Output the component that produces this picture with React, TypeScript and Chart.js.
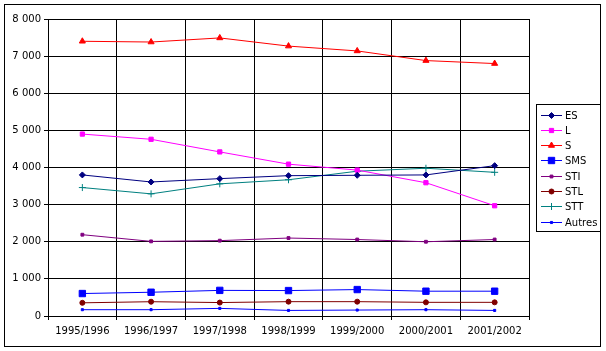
import React, { useEffect, useRef } from 'react';
import { Chart, registerables } from 'chart.js';
import { drawPoint } from 'chart.js/helpers';

Chart.register(...registerables);

const categories = ['1995/1996', '1996/1997', '1997/1998', '1998/1999', '1999/2000', '2000/2001', '2001/2002'];
const seriesES = [3800, 3610, 3700, 3780, 3790, 3800, 4050];
const seriesL = [4900, 4760, 4420, 4090, 3930, 3590, 2970];
const seriesS = [7400, 7380, 7490, 7270, 7140, 6880, 6800];
const seriesSMS = [605, 640, 690, 685, 712, 668, 668];
const seriesSTI = [2190, 2010, 2030, 2100, 2060, 2000, 2060];
const seriesSTL = [355, 385, 362, 386, 386, 368, 368];
const seriesSTT = [3460, 3290, 3560, 3670, 3900, 3980, 3870];
const seriesAutres = [170, 170, 205, 150, 160, 170, 150];
const yMin = 0;
const yMax = 8000;
const yStep = 1000;

const FONT = 'DejaVu Sans';

const fmt = (v: number) => String(v).replace(/\B(?=(\d{3})+(?!\d))/g, ' ');

const frame = {
  id: 'frame',
  beforeDraw(chart: any) {
    const ctx = chart.ctx;
    ctx.save();
    ctx.fillStyle = '#fff';
    ctx.fillRect(0, 0, chart.width, chart.height);
    ctx.restore();
  },
  afterDraw(chart: any) {
    const ctx = chart.ctx;
    ctx.save();
    ctx.strokeStyle = '#000';
    ctx.lineWidth = 1;
    ctx.strokeRect(4.5, 4.5, 596, 342);
    // legend
    const lx = 536.5, ly = 104.5, lw = 64, lh = 127;
    ctx.fillStyle = '#fff';
    ctx.fillRect(lx, ly, lw, lh);
    ctx.strokeRect(lx, ly, lw, lh);
    chart.data.datasets.forEach((ds: any, i: number) => {
      const y = Math.round(114.5 + i * 15.3) + 0.5;
      ctx.strokeStyle = ds.borderColor;
      ctx.fillStyle = ds.borderColor;
      ctx.lineWidth = 1;
      ctx.beginPath();
      ctx.moveTo(541, y);
      ctx.lineTo(562, y);
      ctx.stroke();
      drawPoint(ctx, {
        pointStyle: ds.pointStyle,
        radius: ds.pointRadius,
        rotation: 0,
        borderWidth: 1,
      } as any, 551.5, y);
      ctx.fillStyle = '#000';
      ctx.font = `10px "${FONT}"`;
      ctx.textBaseline = 'middle';
      ctx.textAlign = 'left';
      ctx.fillText(ds.label, 565, y + 0.5);
    });
    ctx.restore();
  },
};

function mk(label: string, data: number[], color: string, style: string, r: number) {
  return {
    label,
    data,
    borderColor: color,
    backgroundColor: color,
    borderWidth: 1,
    pointStyle: style,
    pointRadius: r,
    pointHoverRadius: r,
    pointBorderColor: color,
    pointBackgroundColor: color,
    pointBorderWidth: 1,
    tension: 0,
    fill: false,
  };
}

export default function App() {
  const ref = useRef<HTMLCanvasElement>(null);
  useEffect(() => {
    const canvas = ref.current!;
    const chart = new Chart(canvas, {
      type: 'line',
      data: {
        labels: categories,
        datasets: [
          mk('ES', seriesES, '#000080', 'rectRot', 3),
          mk('L', seriesL, '#FF00FF', 'rect', 3),
          mk('S', seriesS, '#FF0000', 'triangle', 3.5),
          mk('SMS', seriesSMS, '#0000FF', 'rect', 4.5),
          mk('STI', seriesSTI, '#800080', 'rect', 2),
          mk('STL', seriesSTL, '#800000', 'circle', 2.5),
          mk('STT', seriesSTT, '#008080', 'cross', 3.5),
          mk('Autres', seriesAutres, '#0000FF', 'rect', 1.5),
        ] as any,
      },
      options: {
        animation: false,
        responsive: false,
        devicePixelRatio: 1,
        layout: { padding: { left: 0, right: 77, top: 19, bottom: 0 } },
        plugins: { legend: { display: false }, tooltip: { enabled: false } },
        scales: {
          x: {
            type: 'category',
            offset: true,
            grid: { offset: true, color: '#000', lineWidth: 1, drawTicks: true, tickLength: 4, tickColor: '#000' },
            border: { color: '#000', width: 1 },
            ticks: { color: '#000', font: { family: FONT, size: 10 }, padding: 5, maxRotation: 0, autoSkip: false },
            afterFit: (s: any) => { s.height = 35; },
          },
          y: {
            min: yMin,
            max: yMax,
            grid: { color: '#000', lineWidth: 1, drawTicks: true, tickLength: 4, tickColor: '#000' },
            border: { color: '#000', width: 1 },
            ticks: { stepSize: yStep, color: '#000', font: { family: FONT, size: 10 }, padding: 3, callback: (v: any) => fmt(Number(v)) },
            afterFit: (s: any) => { s.width = 48; },
          },
        },
      } as any,
      plugins: [frame],
    });
    return () => chart.destroy();
  }, []);
  return (
    <div style={{ position: 'absolute', left: 0, top: 0, width: 606, height: 351 }}>
      <canvas ref={ref} width={606} height={351} style={{ width: 606, height: 351, display: 'block' }} />
    </div>
  );
}
